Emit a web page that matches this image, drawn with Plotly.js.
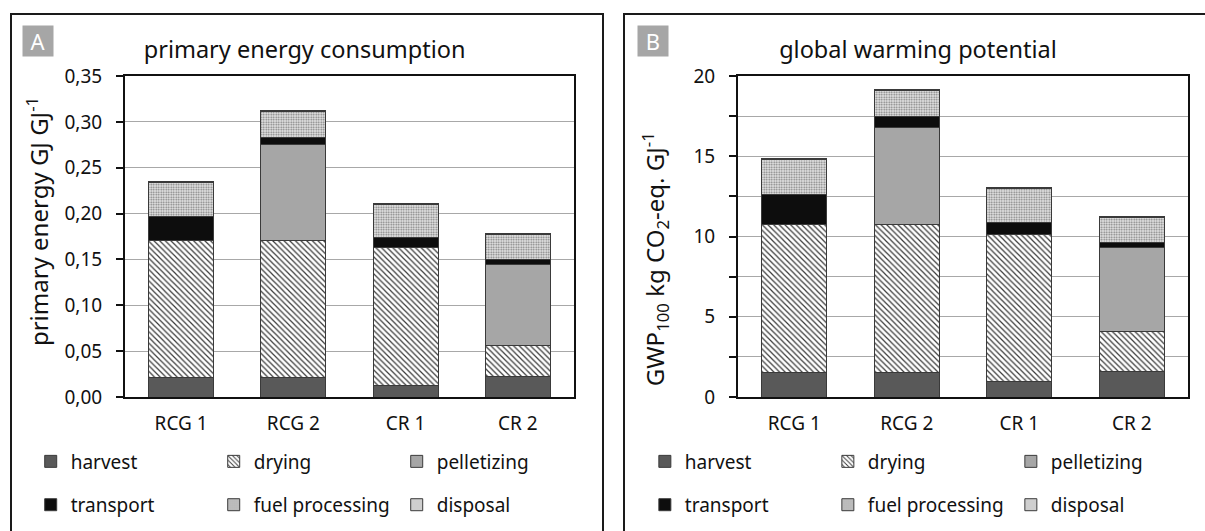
<!DOCTYPE html>
<html><head><meta charset="utf-8">
<script src="https://cdn.plot.ly/plotly-3.0.1.min.js"></script>
<style>
html,body{margin:0;padding:0;width:1205px;height:531px;overflow:hidden;background:#fff;}
.panel{position:absolute;top:13px;border:2px solid #1a1a1a;overflow:hidden;background:#fff;}
#wa{left:10px;width:590px;height:560px;}
#wb{left:623px;width:600px;height:560px;}
</style></head><body>
<div id="wa" class="panel"><div id="pa"></div></div>
<div id="wb" class="panel"><div id="pb"></div></div>
<script>
// ---- data ----
const categories = ['RCG 1', 'RCG 2', 'CR 1', 'CR 2'];
const seriesNames = ['harvest', 'drying', 'pelletizing', 'transport', 'fuel processing', 'disposal'];

// Panel A: primary energy consumption (GJ GJ-1)
const peHarvest        = [0.021, 0.021, 0.012, 0.022];
const peDrying         = [0.150, 0.150, 0.151, 0.034];
const pePelletizing    = [0.000, 0.104, 0.000, 0.089];
const peTransport      = [0.026, 0.008, 0.011, 0.005];
const peFuelProcessing = [0.037, 0.028, 0.036, 0.027];
const peDisposal       = [0.001, 0.001, 0.001, 0.001];

// Panel B: global warming potential (kg CO2-eq. GJ-1)
const gwpHarvest        = [1.55, 1.55, 0.95, 1.60];
const gwpDrying         = [9.20, 9.20, 9.15, 2.50];
const gwpPelletizing    = [0.00, 6.05, 0.00, 5.20];
const gwpTransport      = [1.85, 0.65, 0.80, 0.30];
const gwpFuelProcessing = [2.20, 1.65, 2.10, 1.60];
const gwpDisposal       = [0.05, 0.05, 0.05, 0.05];

const gwpTickVals = [0, 5, 10, 15, 20];

// ---- styles ----
const FONT = 'Noto Sans, Open Sans, sans-serif';
const outline = {color: '#3a3a3a', width: 1};
const markers = [
  {color: '#595959', line: outline},
  {color: '#ffffff', line: outline, pattern: {shape: '\\', fgcolor: '#3a3a3a', bgcolor: '#ffffff', size: 4, solidity: 0.3, fillmode: 'replace'}},
  {color: '#a6a6a6', line: outline},
  {color: '#0d0d0d', line: outline},
  {color: '#e0e0e0', line: outline, pattern: {shape: '.', fgcolor: '#777777', bgcolor: '#e6e6e6', size: 2.5, solidity: 0.4, fillmode: 'replace'}},
  {color: '#cfcfcf', line: outline}
];

function makeTraces(seriesValues) {
  return seriesValues.map((vals, i) => ({
    type: 'bar',
    name: seriesNames[i],
    x: categories,
    y: vals,
    marker: markers[i],
    legend: i < 3 ? 'legend' : 'legend2',
    hoverinfo: 'x+y+name'
  }));
}

function legendCfg(x, y) {
  return {
    orientation: 'h', x: x, y: y, xanchor: 'left', yanchor: 'middle',
    entrywidth: 138, entrywidthmode: 'pixels',
    font: {family: FONT, size: 19, color: '#111'},
    bgcolor: 'rgba(0,0,0,0)', traceorder: 'normal', itemclick: false
  };
}

function makeLayout(opts) {
  return {
    width: opts.width, height: 560,
    margin: {l: 113, r: opts.r, t: 61, b: 178},
    paper_bgcolor: '#ffffff', plot_bgcolor: '#ffffff',
    separators: ',.',
    barmode: 'stack', bargap: 0.42,
    font: {family: FONT, size: 19, color: '#111'},
    showlegend: true,
    title: {text: opts.title, font: {family: FONT, size: 23.5, color: '#111'},
            x: 0.40, xref: 'paper', xanchor: 'center', y: 0.9375, yref: 'container', yanchor: 'middle'},
    xaxis: {
      type: 'category', showline: true, linecolor: '#111', linewidth: 2, mirror: true,
      ticks: '', showgrid: false, tickfont: {size: 19}, ticklabelstandoff: 8, fixedrange: true
    },
    yaxis: Object.assign({
      range: opts.range, showline: true, linecolor: '#111', linewidth: 2, mirror: true,
      ticks: 'outside', ticklen: 7, tickwidth: 2, tickcolor: '#111',
      showgrid: true, gridcolor: '#a8a8a8', gridwidth: 1, zeroline: false,
      tickfont: {size: 19}, ticklabelstandoff: 10, fixedrange: true
    }, opts.yextra),
    legend: legendCfg(opts.legx, -0.201),
    legend2: legendCfg(opts.legx, -0.336),
    annotations: [{
      text: opts.tag, xref: 'paper', yref: 'paper', x: opts.tagx, y: 1.109,
      xanchor: 'center', yanchor: 'middle', showarrow: false,
      font: {family: FONT, size: 22, color: '#ffffff'},
      bgcolor: '#a6a6a6', width: 30, height: 30, borderpad: 0
    }, {
      text: opts.ytitle, xref: 'paper', yref: 'paper', x: opts.ytx, y: opts.yty,
      xanchor: 'center', yanchor: 'middle', showarrow: false, textangle: -90,
      font: {family: FONT, size: 24, color: '#111'}
    }]
  };
}

Plotly.newPlot('pa',
  makeTraces([peHarvest, peDrying, pePelletizing, peTransport, peFuelProcessing, peDisposal]),
  makeLayout({
    width: 590, r: 28, title: 'primary energy consumption',
    ytitle: 'primary energy GJ GJ<sup>-1</sup>', ytx: -0.196, yty: 0.548,
    range: [0, 0.35], yextra: {dtick: 0.05, tick0: 0, tickformat: '.2f'},
    legx: -0.21, tag: 'A', tagx: -0.193
  }),
  {displayModeBar: false}
);

Plotly.newPlot('pb',
  makeTraces([gwpHarvest, gwpDrying, gwpPelletizing, gwpTransport, gwpFuelProcessing, gwpDisposal]),
  makeLayout({
    width: 600, r: 37, title: 'global warming potential',
    ytitle: 'GWP<sub>100</sub> kg CO<sub>2</sub>-eq. GJ<sup>-1</sup>', ytx: -0.184, yty: 0.43,
    range: [0, 20],
    yextra: {tickmode: 'array', tickvals: gwpTickVals,
             minor: {dtick: 2.5, ticks: 'outside', ticklen: 7, tickwidth: 2, tickcolor: '#111',
                     showgrid: true, gridcolor: '#a8a8a8', gridwidth: 1}},
    legx: -0.207, tag: 'B', tagx: -0.189
  }),
  {displayModeBar: false}
);
</script>
</body></html>
